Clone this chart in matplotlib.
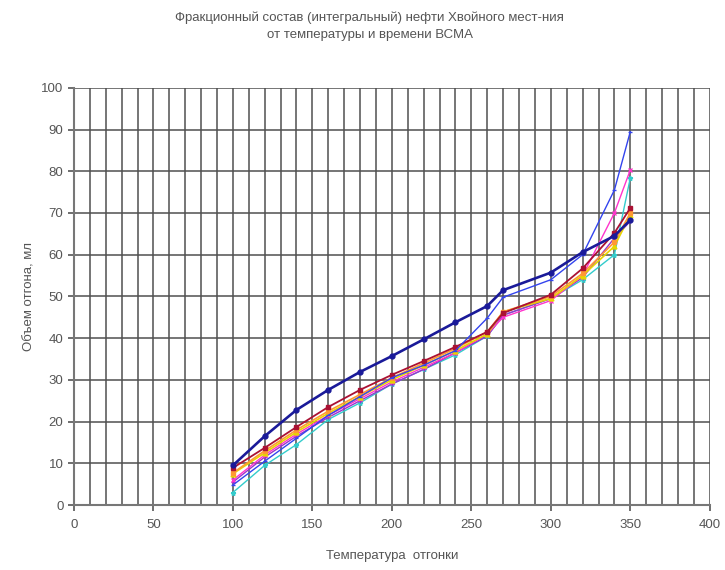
import numpy as np
import matplotlib.pyplot as plt

plt.rcParams['font.family'] = ['Liberation Sans', 'DejaVu Sans']

# температура отгонки, C
temp = [100, 120, 140, 160, 180, 200, 220, 240, 260, 270, 300, 320, 340, 350]

# объем отгона, мл (по сериям)
s_navy = [9.5, 16.5, 22.8, 27.6, 31.9, 35.7, 39.7, 43.8, 47.7, 51.5, 55.7, 60.6, 64.5, 68.3]
s_blue = [4.8, 10.5, 16.0, 21.5, 26.0, 30.5, 33.5, 37.0, 44.8, 49.8, 54.0, 60.0, 75.5, 89.5]
s_red = [8.9, 13.7, 18.7, 23.5, 27.6, 31.2, 34.5, 37.9, 41.5, 46.0, 50.4, 56.7, 65.2, 71.2]
s_orange = [7.7, 13.0, 18.0, 22.5, 26.5, 30.5, 34.0, 37.5, 41.5, 46.3, 50.0, 55.5, 63.0, 70.0]
s_yellow = [7.5, 12.5, 17.5, 22.0, 26.0, 30.0, 33.5, 37.0, 41.0, 46.3, 49.5, 55.0, 62.0, 69.5]
s_magenta = [6.0, 12.0, 17.0, 21.5, 25.5, 29.5, 33.0, 36.5, 41.0, 45.0, 49.0, 55.0, 70.0, 80.3]
s_purple = [5.5, 11.5, 16.5, 21.0, 25.0, 29.0, 32.5, 36.5, 40.5, 45.5, 49.5, 54.5, 64.0, 68.0]
s_cyan = [3.0, 9.5, 14.5, 20.5, 24.5, 29.0, 32.5, 36.0, 40.5, 45.5, 49.5, 54.0, 60.0, 78.4]

series = [
    (s_cyan, '#33cccc', '*', 1.0),
    (s_purple, '#9933cc', '+', 1.0),
    (s_magenta, '#ff33cc', 'x', 1.0),
    (s_yellow, '#e6d600', '^', 1.2),
    (s_orange, '#ff9933', 's', 1.2),
    (s_red, '#aa1133', 's', 1.3),
    (s_blue, '#3344ee', '_', 1.0),
    (s_navy, '#1a1a99', 'o', 1.9),
]

fig = plt.figure(figsize=(7.25, 5.7), dpi=100)
ax = fig.add_axes([0.102, 0.114, 0.877, 0.732])

for vals, col, mk, lw in series:
    ax.plot(temp, vals, color=col, lw=lw, marker=mk, ms=3.5, mew=1.0, zorder=3)

ax.set_xlim(0, 400)
ax.set_ylim(0, 100)
ax.set_xticks(np.arange(0, 401, 50))
ax.set_xticks(np.arange(0, 401, 10), minor=True)
ax.set_yticks(np.arange(0, 101, 10))
ax.grid(True, which='both', color='#505050', lw=1.1, zorder=0)
ax.tick_params(axis='x', which='minor', length=0)
ax.tick_params(colors='#555555', labelsize=9.5, length=4, width=1.2)
ax.tick_params(axis='x', pad=6)

for side in ['top', 'right']:
    ax.spines[side].set_visible(False)
for side in ['left', 'bottom']:
    ax.spines[side].set_color('#777777')
    ax.spines[side].set_linewidth(1.5)

ax.set_xlabel('Температура  отгонки', color='#555555', fontsize=9.5, labelpad=14)
ax.set_ylabel('Объем отгона, мл', color='#555555', fontsize=9.5, labelpad=4)

fig.text(0.51, 0.968, 'Фракционный состав (интегральный) нефти Хвойного мест-ния',
         ha='center', va='center', color='#555555', fontsize=9.5)
fig.text(0.51, 0.939, 'от температуры и времени ВСМА',
         ha='center', va='center', color='#555555', fontsize=9.5)

fig.savefig('out.png', dpi=100)
